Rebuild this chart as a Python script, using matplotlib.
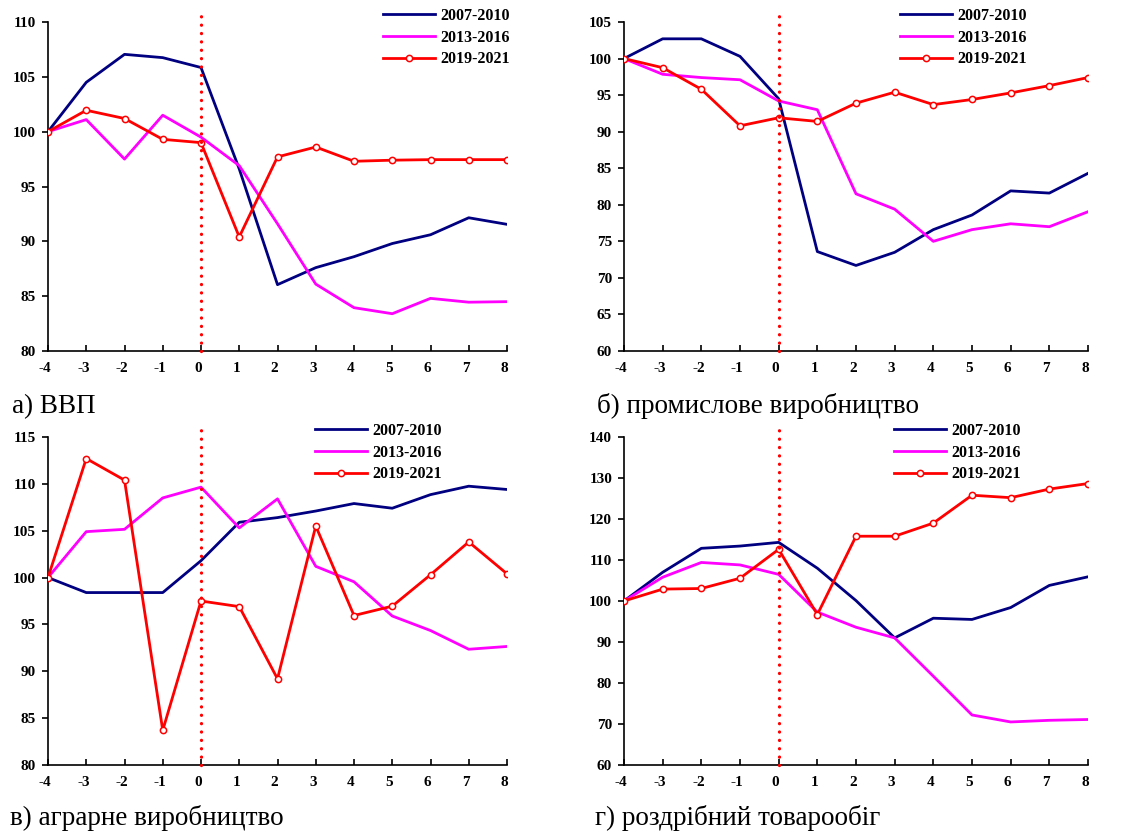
import matplotlib
matplotlib.use("Agg")
import matplotlib.pyplot as plt
import matplotlib.transforms as mtransforms

plt.rcParams['font.family'] = ['Liberation Serif', 'DejaVu Serif']

x_vals = [-4, -3, -2, -1, 0, 1, 2, 3, 4, 5, 6, 7, 8]
series_labels = ["2007-2010", "2013-2016", "2019-2021"]

# а) ВВП
gdp_0710 = [100, 104.5, 107.05, 106.75, 105.85, 96.6, 86.05, 87.6, 88.6, 89.8, 90.6, 92.15, 91.55]
gdp_1316 = [100, 101.1, 97.5, 101.5, 99.5, 96.9, 91.6, 86.1, 83.95, 83.4, 84.8, 84.45, 84.5]
gdp_1921 = [100, 101.95, 101.2, 99.3, 99.0, 90.4, 97.7, 98.6, 97.3, 97.4, 97.45, 97.45, 97.45]

# б) промислове виробництво
ind_0710 = [100, 102.7, 102.7, 100.3, 94.5, 73.6, 71.7, 73.5, 76.6, 78.6, 81.9, 81.6, 84.3]
ind_1316 = [100, 97.85, 97.4, 97.1, 94.2, 93.0, 81.5, 79.4, 75.0, 76.6, 77.4, 77.0, 79.05]
ind_1921 = [100, 98.75, 95.8, 90.8, 91.9, 91.4, 93.9, 95.4, 93.7, 94.4, 95.3, 96.3, 97.4]

# в) аграрне виробництво
agr_0710 = [100, 98.4, 98.4, 98.4, 101.8, 105.9, 106.4, 107.1, 107.9, 107.4, 108.85, 109.75, 109.4]
agr_1316 = [100, 104.9, 105.15, 108.5, 109.65, 105.3, 108.4, 101.2, 99.55, 95.9, 94.35, 92.35, 92.65]
agr_1921 = [100, 112.7, 110.4, 83.7, 97.5, 96.9, 89.2, 105.5, 95.95, 96.95, 100.3, 103.8, 100.4]

# г) роздрібний товарообіг
ret_0710 = [100, 107.0, 112.85, 113.4, 114.3, 108.0, 100.1, 91.0, 95.8, 95.5, 98.4, 103.8, 105.9]
ret_1316 = [100, 105.8, 109.4, 108.8, 106.5, 97.3, 93.6, 91.0, 81.65, 72.2, 70.5, 70.9, 71.1]
ret_1921 = [100, 102.9, 103.05, 105.55, 112.6, 96.7, 115.8, 115.8, 119.0, 125.8, 125.2, 127.3, 128.65]

captions = ["а) ВВП", "б) промислове виробництво", "в) аграрне виробництво", "г) роздрібний товарообіг"]
ylims = [(80, 110), (60, 105), (80, 115), (60, 140)]
ysteps = [5, 5, 5, 10]

W, H = 1134, 834
fig = plt.figure(figsize=(W / 100, H / 100), dpi=100)

def rect(l, r, t, b):
    return [l / W, 1 - b / H, (r - l) / W, (b - t) / H]

panels = [
    dict(rect=rect(48, 507, 22, 351), data=(gdp_0710, gdp_1316, gdp_1921), vtop=1.033,
         leg=(383, 8), cap=(12, 413)),
    dict(rect=rect(624, 1088, 22, 351), data=(ind_0710, ind_1316, ind_1921), vtop=1.033,
         leg=(900, 8), cap=(597, 413)),
    dict(rect=rect(48, 507, 437, 765), data=(agr_0710, agr_1316, agr_1921), vtop=1.046,
         leg=(315, 423), cap=(10, 825)),
    dict(rect=rect(624, 1088, 437, 765), data=(ret_0710, ret_1316, ret_1921), vtop=1.03,
         leg=(894, 423), cap=(595, 825)),
]

navy = '#000080'
mag = '#FF00FF'
red = '#FF0000'

shift = mtransforms.ScaledTranslation(-3 / 100, 0, fig.dpi_scale_trans)

for i, p in enumerate(panels):
    ax = fig.add_axes(p['rect'])
    s1, s2, s3 = p['data']
    ax.plot(x_vals, s1, color=navy, lw=2.0, label=series_labels[0], zorder=3)
    ax.plot(x_vals, s2, color=mag, lw=2.0, label=series_labels[1], zorder=3)
    ax.plot(x_vals, s3, color=red, lw=2.0, marker='o', ms=4.5, mfc='white', mec=red,
            mew=1.1, label=series_labels[2], zorder=4)
    ax.axvline(0, ymin=0, ymax=p['vtop'], color=red, lw=2.4, linestyle=(0, (0.01, 2.5)),
               dash_capstyle='round', clip_on=False, zorder=5)
    lo, hi = ylims[i]
    ax.set_xlim(-4, 8)
    ax.set_ylim(lo, hi)
    ax.set_xticks(x_vals)
    ax.set_xticklabels([str(v) for v in x_vals])
    ax.set_yticks(list(range(lo, hi + 1, ysteps[i])))
    for s in ['top', 'right']:
        ax.spines[s].set_visible(False)
    for s in ['left', 'bottom']:
        ax.spines[s].set_linewidth(1.2)
    ax.tick_params(axis='x', direction='in', length=4, width=1.2, pad=8, labelsize=11)
    ax.tick_params(axis='y', direction='out', length=4.5, width=1.2, pad=4, labelsize=11)
    for lab in ax.get_xticklabels():
        lab.set_fontweight('bold')
        lab.set_transform(lab.get_transform() + shift)
    for lab in ax.get_yticklabels():
        lab.set_fontweight('bold')
    lx, ly = p['leg']
    ax.legend(loc='upper left', bbox_to_anchor=(lx / W, 1 - ly / H),
              bbox_transform=fig.transFigure, frameon=False,
              prop={'weight': 'bold', 'size': 11.5}, handlelength=3.25,
              handletextpad=0.35, labelspacing=0.35, borderpad=0, borderaxespad=0)
    cx, cy = p['cap']
    fig.text(cx / W, 1 - cy / H, captions[i], fontsize=19.5, ha='left', va='baseline')

fig.savefig('out.png', dpi=100)
